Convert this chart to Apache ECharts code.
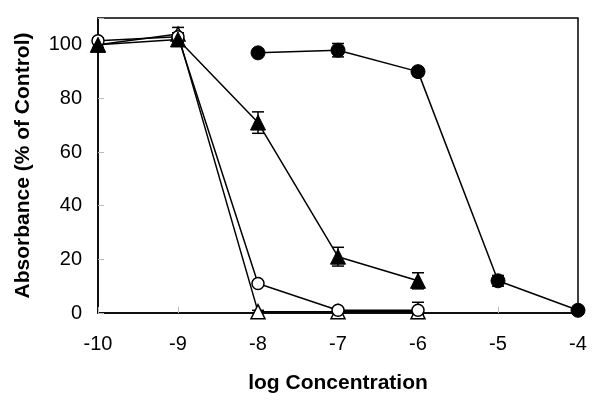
<!DOCTYPE html>
<html>
<head>
<meta charset="utf-8">
<script src="https://cdn.jsdelivr.net/npm/echarts@6/dist/echarts.min.js"></script>
<style>html,body{margin:0;padding:0;background:#fff}#c{width:600px;height:404px}</style>
</head>
<body>
<div id="c"></div>
<script>
var xTicks = [-10, -9, -8, -7, -6, -5, -4];
var yTicks = [0, 20, 40, 60, 80, 100];

var filledCircleX = [-8, -7, -6, -5, -4];
var filledCircleY = [97, 98, 90, 12, 1];
var filledCircleErr = [1, 2.5, 1.5, 2, 0.5];

var filledTriX = [-10, -9, -8, -7, -6];
var filledTriY = [100, 102, 71, 21, 12];
var filledTriErr = [1, 1, 4, 3.5, 3];

var openCircleX = [-10, -9, -8, -7, -6];
var openCircleY = [101.5, 103, 11, 1, 1];
var openCircleErr = [1, 1.5, 1, 1, 3];

var openTriX = [-10, -9, -8, -7, -6];
var openTriY = [100, 104, 0.5, 0.5, 0.5];
var openTriErr = [1, 2.5, 0.5, 0.5, 1];

function pairs(xs, ys) { return xs.map(function (x, i) { return [x, ys[i]]; }); }
function errData(xs, ys, es) { return xs.map(function (x, i) { return [x, ys[i] - es[i], ys[i] + es[i]]; }); }

function errSeries(xs, ys, es) {
  return {
    type: 'custom',
    z: 1,
    silent: true,
    data: errData(xs, ys, es),
    renderItem: function (params, api) {
      var x = api.value(0);
      var lo = api.coord([x, api.value(1)]);
      var hi = api.coord([x, api.value(2)]);
      var hw = 6;
      var st = { stroke: '#000', lineWidth: 1.5 };
      return {
        type: 'group',
        children: [
          { type: 'line', shape: { x1: lo[0], y1: lo[1], x2: hi[0], y2: hi[1] }, style: st },
          { type: 'line', shape: { x1: lo[0] - hw, y1: lo[1], x2: lo[0] + hw, y2: lo[1] }, style: st },
          { type: 'line', shape: { x1: hi[0] - hw, y1: hi[1], x2: hi[0] + hw, y2: hi[1] }, style: st }
        ]
      };
    }
  };
}

function lineSeries(xs, ys, symbol, size, filled) {
  return {
    type: 'line',
    z: 3,
    data: pairs(xs, ys),
    symbol: symbol,
    symbolSize: size,
    showSymbol: true,
    lineStyle: { color: '#000', width: 1.5 },
    itemStyle: filled ? { color: '#000', borderColor: '#000', borderWidth: 1 } : { color: '#fff', borderColor: '#000', borderWidth: 1.5 },
    emphasis: { disabled: true },
    animation: false
  };
}

var chart = echarts.init(document.getElementById('c'), null, { renderer: 'canvas' });
chart.setOption({
  animation: false,
  backgroundColor: '#fff',
  grid: { left: 98, right: 22, top: 18, bottom: 91, show: true, borderColor: '#000', borderWidth: 1.5, backgroundColor: 'transparent' },
  xAxis: {
    type: 'value', min: xTicks[0], max: xTicks[xTicks.length - 1], interval: 1,
    name: 'log Concentration', nameLocation: 'middle', nameGap: 60,
    nameTextStyle: { fontFamily: 'Liberation Sans', fontWeight: 'bold', fontSize: 21, color: '#000' },
    axisLine: { show: true, lineStyle: { color: '#000', width: 1.5 } },
    axisTick: { show: true, inside: true, length: 6, lineStyle: { color: '#bbb' } },
    axisLabel: { fontFamily: 'Liberation Sans', fontSize: 20, color: '#000', margin: 21 },
    splitLine: { show: false }
  },
  yAxis: {
    type: 'value', min: 0, max: 110, interval: 20,
    name: 'Absorbance (% of Control)', nameLocation: 'middle', nameGap: 64,
    nameTextStyle: { fontFamily: 'Liberation Sans', fontWeight: 'bold', fontSize: 21, color: '#000' },
    axisLine: { show: true, lineStyle: { color: '#000', width: 1.5 } },
    axisTick: { show: true, inside: true, length: 6, lineStyle: { color: '#bbb' } },
    axisLabel: {
      fontFamily: 'Liberation Sans', fontSize: 20, color: '#000', margin: 16,
      formatter: function (v) { return yTicks.indexOf(v) >= 0 ? String(v) : ''; }
    },
    splitLine: { show: false }
  },
  series: [
    errSeries(filledCircleX, filledCircleY, filledCircleErr),
    errSeries(filledTriX, filledTriY, filledTriErr),
    errSeries(openCircleX, openCircleY, openCircleErr),
    errSeries(openTriX, openTriY, openTriErr),
    lineSeries(openTriX, openTriY, 'triangle', 14, false),
    lineSeries(openCircleX, openCircleY, 'circle', 12, false),
    lineSeries(filledTriX, filledTriY, 'triangle', 15, true),
    lineSeries(filledCircleX, filledCircleY, 'circle', 14, true)
  ]
});
</script>
</body>
</html>
